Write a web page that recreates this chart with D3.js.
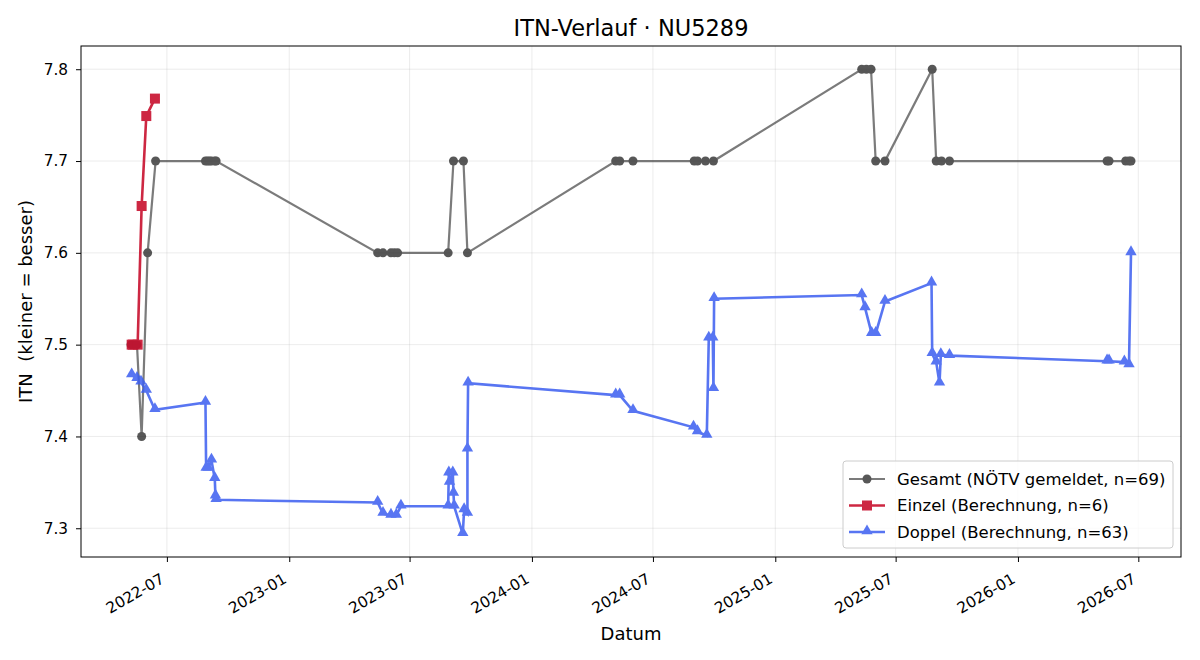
<!DOCTYPE html>
<html>
<head>
<meta charset="utf-8">
<script src="https://cdn.jsdelivr.net/npm/d3@7"></script>
<style>
  body { margin: 0; background: #fff; }
  text { font-family: 'DejaVu Sans', sans-serif; }
</style>
</head>
<body>
<div id="vis"></div>
<script>
// --- data ---
var gesamtDates = ["2022-05-08","2022-05-12","2022-05-17","2022-05-24","2022-06-02","2022-06-14",
  "2022-08-28","2022-08-31","2022-09-03","2022-09-06","2022-09-11","2022-09-13",
  "2023-05-14","2023-05-22","2023-06-03","2023-06-08","2023-06-13","2023-08-28","2023-09-05",
  "2023-09-20","2023-09-26","2024-05-06","2024-05-12","2024-06-01","2024-09-01","2024-09-06",
  "2024-09-18","2024-09-30","2025-05-11","2025-05-18","2025-05-25","2025-06-01","2025-06-15",
  "2025-08-25","2025-08-31","2025-09-08","2025-09-20","2026-05-15","2026-05-18","2026-06-12",
  "2026-06-17","2026-06-20"];
var gesamtValues = [7.5,7.5,7.5,7.4,7.6,7.7,
  7.7,7.7,7.7,7.7,7.7,7.7,
  7.6,7.6,7.6,7.6,7.6,7.6,7.7,
  7.7,7.6,7.7,7.7,7.7,7.7,7.7,
  7.7,7.7,7.8,7.8,7.8,7.7,7.7,
  7.8,7.7,7.7,7.7,7.7,7.7,7.7,
  7.7,7.7];

var einzelDates = ["2022-05-09","2022-05-11","2022-05-18","2022-05-24","2022-05-31","2022-06-13"];
var einzelValues = [7.5,7.5,7.5,7.651,7.749,7.768];

var doppelDates = ["2022-05-09","2022-05-17","2022-05-23","2022-05-31","2022-06-13",
  "2022-08-28","2022-08-29","2022-09-01","2022-09-06","2022-09-11","2022-09-12","2022-09-13",
  "2023-05-14","2023-05-22","2023-06-03","2023-06-11","2023-06-18",
  "2023-08-28","2023-08-29","2023-08-30","2023-09-04","2023-09-05","2023-09-06",
  "2023-09-19","2023-09-21","2023-09-26","2023-09-26","2023-09-27",
  "2024-05-06","2024-05-12","2024-06-01","2024-08-31","2024-09-06","2024-09-20",
  "2024-09-23","2024-09-29","2024-09-30","2024-10-01",
  "2025-05-11","2025-05-16","2025-05-26","2025-06-01","2025-06-15",
  "2025-08-24","2025-08-25","2025-08-31","2025-09-05","2025-09-07","2025-09-20",
  "2026-05-15","2026-05-18","2026-06-10","2026-06-17","2026-06-20"];
var doppelValues = [7.467,7.463,7.459,7.450,7.429,
  7.437,7.365,7.365,7.374,7.354,7.335,7.331,
  7.328,7.316,7.314,7.314,7.324,
  7.324,7.360,7.350,7.360,7.338,7.324,
  7.294,7.320,7.316,7.386,7.458,
  7.445,7.445,7.428,7.410,7.405,7.401,
  7.507,7.507,7.452,7.550,
  7.554,7.540,7.512,7.512,7.547,
  7.567,7.490,7.481,7.458,7.489,7.488,
  7.482,7.482,7.481,7.478,7.600];

var seriesNames = ["Gesamt (NÖTV gemeldet, n=69)", "Einzel (Berechnung, n=6)", "Doppel (Berechnung, n=63)"];
var yTicks = [7.3, 7.4, 7.5, 7.6, 7.7, 7.8];

// --- layout ---
var width = 1200, height = 660;
var margin = {top: 46, left: 81, right: 19, bottom: 103};
var parse = d3.utcParse("%Y-%m-%d");

function zipSeries(dates, values) {
  return dates.map(function(d, i) { return {date: parse(d), value: values[i]}; });
}
var gesamt = zipSeries(gesamtDates, gesamtValues);
var einzel = zipSeries(einzelDates, einzelValues);
var doppel = zipSeries(doppelDates, doppelValues);
var all = gesamt.concat(einzel, doppel);

var svg = d3.select("#vis")
  .append("svg")
  .attr("width", width)
  .attr("height", height);

// matplotlib style 5% padding
var xExt = d3.extent(all, d => d.date);
var xPad = (xExt[1] - xExt[0]) * 0.05;
var yExt = d3.extent(all, d => d.value);
var yPad = (yExt[1] - yExt[0]) * 0.05;

var x = d3.scaleUtc()
  .domain([new Date(+xExt[0] - xPad), new Date(+xExt[1] + xPad)])
  .range([margin.left, width - margin.right]);
var y = d3.scaleLinear()
  .domain([yExt[0] - yPad, yExt[1] + yPad])
  .range([height - margin.bottom, margin.top]);

var xTicks = x.ticks(d3.utcMonth.every(6)).filter(d => d.getUTCMonth() % 6 === 0);

// grid
svg.append("g")
  .selectAll("line.vg")
  .data(xTicks)
  .join("line")
  .attr("x1", d => x(d)).attr("x2", d => x(d))
  .attr("y1", margin.top).attr("y2", height - margin.bottom)
  .attr("stroke", "#b0b0b0").attr("stroke-opacity", 0.3).attr("stroke-width", 0.8);
svg.append("g")
  .selectAll("line.hg")
  .data(yTicks)
  .join("line")
  .attr("x1", margin.left).attr("x2", width - margin.right)
  .attr("y1", d => y(d)).attr("y2", d => y(d))
  .attr("stroke", "#b0b0b0").attr("stroke-opacity", 0.3).attr("stroke-width", 0.8);

// axes
var xAxis = svg.append("g")
  .attr("transform", "translate(0," + (height - margin.bottom) + ")")
  .call(d3.axisBottom(x).tickValues(xTicks).tickFormat(d3.utcFormat("%Y-%m")).tickSize(5).tickSizeOuter(0));
xAxis.select(".domain").remove();
xAxis.selectAll("text")
  .style("font-size", "15.3px")
  .attr("fill", "#000")
  .attr("text-anchor", "end")
  .attr("x", 0).attr("y", 0).attr("dx", 0).attr("dy", 0)
  .attr("transform", "translate(-2,25) rotate(-30)");

var yAxis = svg.append("g")
  .attr("transform", "translate(" + margin.left + ",0)")
  .call(d3.axisLeft(y).tickValues(yTicks).tickFormat(d3.format(".1f")).tickSize(5).tickSizeOuter(0));
yAxis.select(".domain").remove();
yAxis.selectAll("text").style("font-size", "15.3px").attr("fill", "#000").attr("x", -13);

svg.append("rect")
  .attr("x", margin.left).attr("y", margin.top)
  .attr("width", width - margin.left - margin.right)
  .attr("height", height - margin.top - margin.bottom)
  .attr("fill", "none").attr("stroke", "#000").attr("stroke-width", 1);

// lines + markers
var line = d3.line().x(d => x(d.date)).y(d => y(d.value));

var gG = svg.append("g").attr("opacity", 0.7);
gG.append("path").datum(gesamt)
  .attr("d", line).attr("fill", "none").attr("stroke", "#444").attr("stroke-width", 2.2);
gG.selectAll("circle").data(gesamt).join("circle")
  .attr("cx", d => x(d.date)).attr("cy", d => y(d.value)).attr("r", 4.5)
  .attr("fill", "#111");

var eG = svg.append("g").attr("opacity", 0.9);
eG.append("path").datum(einzel)
  .attr("d", line).attr("fill", "none").attr("stroke", "#c8102e").attr("stroke-width", 2.6);
eG.selectAll("rect").data(einzel).join("rect")
  .attr("x", d => x(d.date) - 5).attr("y", d => y(d.value) - 5)
  .attr("width", 10).attr("height", 10)
  .attr("fill", "#c8102e");

var tri = d3.symbol().type(d3.symbolTriangle).size(56);
var dG = svg.append("g").attr("opacity", 0.85);
dG.append("path").datum(doppel)
  .attr("d", line).attr("fill", "none").attr("stroke", "#3b5ef0").attr("stroke-width", 2.6);
dG.selectAll("path.m").data(doppel).join("path")
  .attr("class", "m")
  .attr("transform", d => "translate(" + x(d.date) + "," + (y(d.value) - 1) + ")")
  .attr("d", tri)
  .attr("fill", "#3b5ef0");

// title and axis labels
svg.append("text")
  .attr("x", (margin.left + width - margin.right) / 2).attr("y", 36)
  .attr("text-anchor", "middle").style("font-size", "22.5px")
  .text("ITN-Verlauf · NU5289");
svg.append("text")
  .attr("x", (margin.left + width - margin.right) / 2).attr("y", 640)
  .attr("text-anchor", "middle").style("font-size", "18px")
  .text("Datum");
svg.append("text")
  .attr("transform", "translate(32," + ((margin.top + height - margin.bottom) / 2) + ") rotate(-90)")
  .attr("text-anchor", "middle").style("font-size", "18px")
  .style("white-space", "pre").attr("xml:space", "preserve")
  .text("ITN  (kleiner = besser)");

// legend
var lg = svg.append("g").attr("transform", "translate(843,461)");
lg.append("rect")
  .attr("width", 330).attr("height", 87).attr("rx", 3)
  .attr("fill", "#fff").attr("fill-opacity", 0.8)
  .attr("stroke", "#ccc");
var legendStyles = [
  {color: "#444", op: 0.7, sw: 2.2, shape: "circle", mfill: "#111"},
  {color: "#c8102e", op: 0.9, sw: 2.6, shape: "square", mfill: "#c8102e"},
  {color: "#3b5ef0", op: 0.85, sw: 2.6, shape: "triangle", mfill: "#3b5ef0"}
];
seriesNames.forEach(function(name, i) {
  var s = legendStyles[i];
  var row = lg.append("g").attr("transform", "translate(0," + (18 + i * 26.5) + ")");
  var mk = row.append("g").attr("opacity", s.op);
  mk.append("line").attr("x1", 6).attr("x2", 42).attr("stroke", s.color).attr("stroke-width", s.sw);
  if (s.shape === "circle") mk.append("circle").attr("cx", 24).attr("r", 4.5).attr("fill", s.mfill);
  if (s.shape === "square") mk.append("rect").attr("x", 19).attr("y", -5).attr("width", 10).attr("height", 10).attr("fill", s.mfill);
  if (s.shape === "triangle") mk.append("path").attr("transform", "translate(24,-1)").attr("d", tri).attr("fill", s.mfill);
  row.append("text").attr("x", 54).attr("dy", "0.35em").style("font-size", "16.5px").text(name);
});
</script>
</body>
</html>
